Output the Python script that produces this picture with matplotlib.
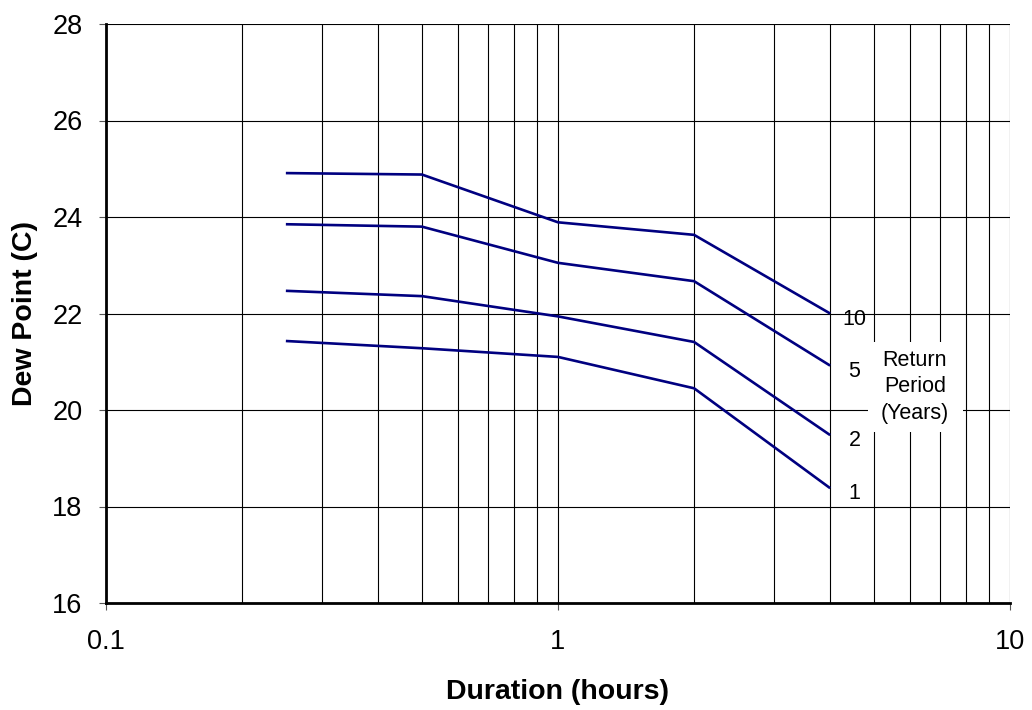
import matplotlib
matplotlib.use("Agg")
import matplotlib.pyplot as plt
from matplotlib.patches import Rectangle
from matplotlib.ticker import LogLocator, NullFormatter, FixedLocator, FixedFormatter

plt.rcParams['font.family'] = ['Liberation Sans', 'DejaVu Sans']

durations = [0.25, 0.5, 1, 2, 4]
rp10 = [24.91, 24.88, 23.89, 23.63, 22.00]
rp5 = [23.85, 23.80, 23.05, 22.67, 20.92]
rp2 = [22.47, 22.36, 21.94, 21.41, 19.48]
rp1 = [21.43, 21.28, 21.10, 20.45, 18.38]
series = [("10", rp10), ("5", rp5), ("2", rp2), ("1", rp1)]

fig = plt.figure(figsize=(10.32, 7.10), dpi=100)
ax = fig.add_axes([106/1032, 1-603/710, (1010-106)/1032, (603-24)/710])

for lab, vals in series:
    ax.plot(durations, vals, color='#000080', lw=1.9, solid_capstyle='butt', zorder=3)
    ax.text(4.53, vals[-1] - 0.12, lab, ha='center', va='center', fontsize=15.5, color='black', zorder=5)

ax.set_xscale('log')
ax.set_xlim(0.1, 10)
ax.set_ylim(16, 28)
ax.set_yticks([16, 18, 20, 22, 24, 26, 28])
ax.xaxis.set_major_locator(FixedLocator([0.1, 1, 10]))
ax.xaxis.set_major_formatter(FixedFormatter(['0.1', '1', '10']))
ax.xaxis.set_minor_locator(LogLocator(base=10, subs=range(2, 10)))
ax.xaxis.set_minor_formatter(NullFormatter())
ax.tick_params(axis='x', which='minor', length=0)
ax.tick_params(axis='both', which='major', labelsize=19.5, length=5, width=0.8, direction='out', color='#555555')
ax.tick_params(axis='x', pad=14)
ax.tick_params(axis='y', pad=12)

ax.grid(True, which='both', axis='x', color='black', lw=0.8)
ax.grid(True, which='major', axis='y', color='black', lw=0.8)
ax.set_axisbelow(True)

for s in ['top', 'right']:
    ax.spines[s].set_visible(False)
ax.spines['left'].set_linewidth(2)
ax.spines['bottom'].set_linewidth(2)

ax.set_xlabel('Duration (hours)', fontsize=20.5, fontweight='bold')
ax.set_ylabel('Dew Point (C)', fontsize=20.5, fontweight='bold')
ax.xaxis.set_label_coords(0.5, -0.132)
ax.yaxis.set_label_coords(-0.075, 0.5)

# white background behind the "Return Period" note
ax.add_patch(Rectangle((4.85, 19.54), 7.86 - 4.85, 21.41 - 19.54, facecolor='white',
                       edgecolor='none', zorder=2))
ax.text(6.16, 20.48, 'Return\nPeriod\n(Years)', ha='center', va='center', fontsize=15.5,
        linespacing=1.33, zorder=5)

fig.savefig('out.png', dpi=100)
